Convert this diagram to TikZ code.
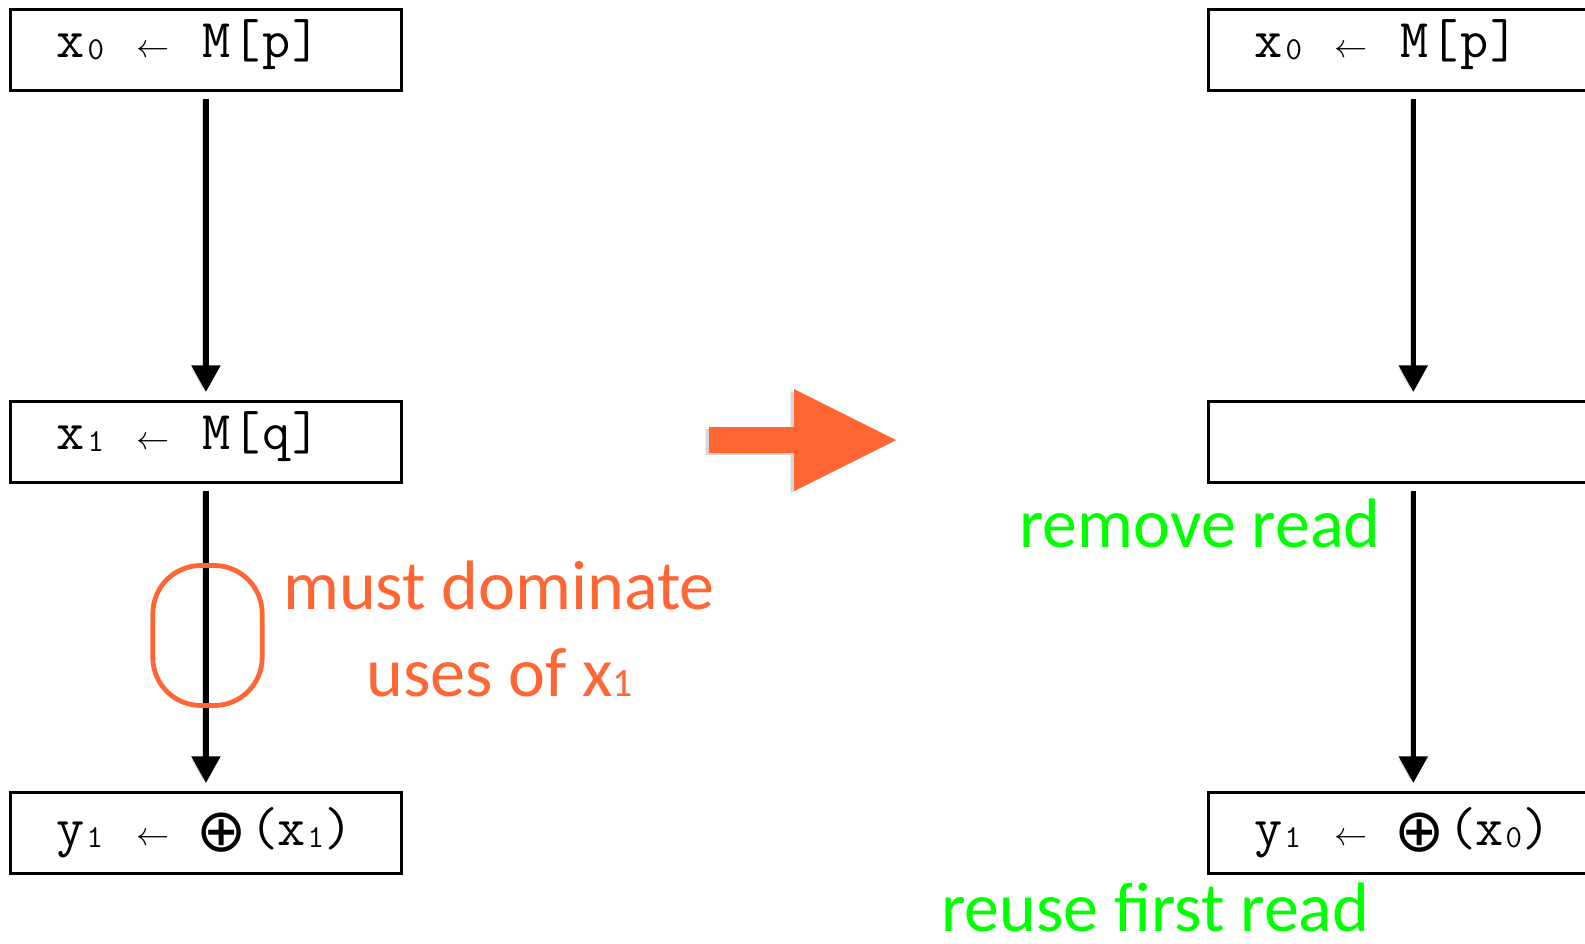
\documentclass[tikz,border=0pt]{standalone}
\usepackage{fontspec}
\setmainfont{Carlito}
\newfontfamily\symfont{DejaVu Sans}
\usetikzlibrary{arrows.meta,calc}

\definecolor{hot}{HTML}{FF6633}
\definecolor{lime}{HTML}{00FF00}

% one picture pixel
\newdimen\px \px=0.75pt
% put #2 centred #1 pixels right of the line's start, taking no width
\newcommand\at[2]{\makebox[0pt][l]{\hspace*{#1\px}\makebox[0pt][c]{#2}}}
% subscript digits in the code lines
\newcommand\lowsub[1]{\raisebox{-1.2pt}{\fontsize{24}{26}\selectfont #1}}
% assignment arrow
\newcommand\assignarrow{{\fontsize{24.88}{26}\selectfont$\leftarrow$}}
% the combine operator
\newcommand\combine{{\symfont\fontsize{45}{48}\selectfont\raisebox{-4.8pt}{⊕}}}
% subscript digit in the prose labels
\newcommand\notesub[1]{{\fontsize{30}{32}\selectfont #1}}

\begin{document}
\begin{tikzpicture}[x=0.75pt,y=-0.75pt,
  stmtbox/.style={draw=black, line width=2.2pt, fill=white, inner sep=0pt,
    minimum width=293.25pt, minimum height=60.75pt, anchor=north west},
  code/.style={font=\ttfamily\fontsize{41}{44}\selectfont, inner sep=0pt, anchor=base west},
  flow/.style={line width=3.9pt, -{Triangle[length=20pt,width=21pt]},
    shorten <=5.25pt, shorten >=6pt,
    preaction={draw=black!16, transform canvas={xshift=-2.6pt, yshift=-0.8pt}}},
  note/.style={font=\fontsize{52.5}{56}\selectfont, inner sep=0pt, anchor=base west}]
\useasboundingbox (0,0) rectangle (1585,943);
\clip (0,0) rectangle (1585,943);

% ---- original program ----
\node[stmtbox] (a1) at (9,8) {};
\node[stmtbox] (a2) at (9,400) {};
\node[stmtbox] (a3) at (9,791) {};
\node[code] (ta1) at ($(a1.west)+(0,7.5)$)
  {\at{61}{x}\at{86}{\lowsub{0}}\at{143}{\assignarrow}\at{207}{M}\at{237}{[}\at{267}{p}\at{297}{]}};
\node[code] (ta2) at ($(a2.west)+(0,7.5)$)
  {\at{61}{x}\at{86}{\lowsub{1}}\at{143}{\assignarrow}\at{207}{M}\at{237}{[}\at{267}{q}\at{297}{]}};
\node[code] (ta3) at ($(a3.west)+(0,12.5)$)
  {\at{61}{y}\at{85}{\lowsub{1}}\at{143}{\assignarrow}\at{212}{\combine}\at{254.5}{(}\at{281.5}{x}\at{306}{\lowsub{1}}\at{329}{)}};
\draw[flow] (a1.south) -- (a2.north);
\draw[flow] (a2.south) -- (a3.north);

% the dominance requirement
\node[draw=hot, line width=3.6pt, rounded corners=36pt, inner sep=0pt,
  minimum width=82pt, minimum height=105pt] (ring) at (207.5,635.5) {};
\node[note, text=hot] (n1) at (283,609) {must dominate};
\node[note, text=hot] (n2) at (366,696) {uses of x\notesub{1}};

% ---- transformation arrow ----
\begin{scope}[transform canvas={xshift=-2.5pt, yshift=-1.5pt}]
  \fill[black!16] (709,427) -- (794,427) -- (794,389) -- (896,440) -- (794,491)
    -- (794,453) -- (709,453) -- cycle;
\end{scope}
\fill[hot] (709,427) -- (794,427) -- (794,389) -- (896,440) -- (794,491)
  -- (794,453) -- (709,453) -- cycle;

% ---- optimised program ----
\node[stmtbox] (b1) at (1207,8) {};
\node[stmtbox] (b2) at (1207,400) {};
\node[stmtbox] (b3) at (1207,791) {};
\node[code] (tb1) at ($(b1.west)+(0,7.5)$)
  {\at{61}{x}\at{86}{\lowsub{0}}\at{143}{\assignarrow}\at{207}{M}\at{237}{[}\at{267}{p}\at{297}{]}};
\node[code] (tb3) at ($(b3.west)+(0,12.5)$)
  {\at{61}{y}\at{85}{\lowsub{1}}\at{143}{\assignarrow}\at{212}{\combine}\at{254.5}{(}\at{281.5}{x}\at{306}{\lowsub{0}}\at{329}{)}};
\draw[flow] ([xshift=7pt]b1.south) -- ([xshift=7pt]b2.north);
\draw[flow] ([xshift=7pt]b2.south) -- ([xshift=7pt]b3.north);

\node[note, text=lime] (n3) at (1019,547) {remove read};
\node[note, text=lime] (n4) at (941,931) {reuse first read};
\end{tikzpicture}
\end{document}
